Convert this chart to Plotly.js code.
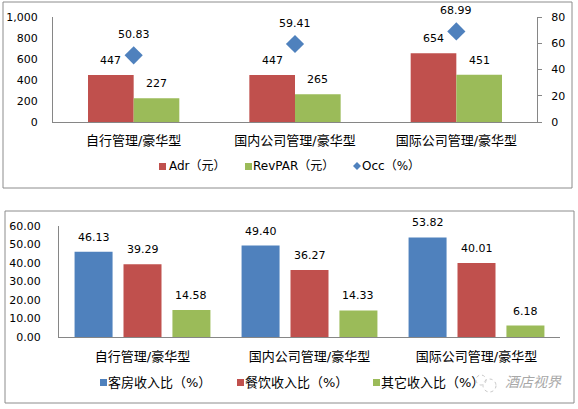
<!DOCTYPE html>
<html>
<head>
<meta charset="utf-8">
<script src="https://cdn.plot.ly/plotly-3.0.1.min.js"></script>
<style>html,body{margin:0;padding:0;background:#fff;}#chart{width:578px;height:409px;}</style>
</head>
<body>
<div id="chart"></div>
<script>
// ---- data ----
const categories = ["自行管理/豪华型", "国内公司管理/豪华型", "国际公司管理/豪华型"];
const adr = [447, 447, 654];
const revpar = [227, 265, 451];
const occ = [50.83, 59.41, 68.99];
const roomRatio = [46.13, 49.40, 53.82];
const fbRatio = [39.29, 36.27, 40.01];
const otherRatio = [14.58, 14.33, 6.18];
const topNames = ["Adr（元）", "RevPAR（元）", "Occ（%）"];
const bottomNames = ["客房收入比（%）", "餐饮收入比（%）", "其它收入比（%）"];

const FONT = "DejaVu Sans, Verdana, 'Noto Sans CJK SC', sans-serif";
const RED = "#C0504D", GREEN = "#9BBB59", BLUE = "#4F81BD", AX = "#868686";
const W = 578, H = 409;
const px = v => v / W, py = v => 1 - v / H;

// bar geometry (category units)
const TW = 0.283;                  // top bar width
const BW = 0.2275, BS = 0.293;     // bottom bar width & slot
const topOffsets = [-TW, 0];
const botOffsets = [-BS - BW / 2, -BW / 2, BS - BW / 2];

const traces = [
  {type: "bar", name: topNames[0], x: categories, y: adr, xaxis: "x", yaxis: "y",
   width: TW, offset: topOffsets[0], marker: {color: RED}, hoverinfo: "none"},
  {type: "bar", name: topNames[1], x: categories, y: revpar, xaxis: "x", yaxis: "y",
   width: TW, offset: topOffsets[1], marker: {color: GREEN}, hoverinfo: "none"},
  {type: "scatter", mode: "markers", name: topNames[2], x: categories, y: occ, xaxis: "x", yaxis: "y2",
   marker: {symbol: "diamond", size: 14, color: BLUE}, hoverinfo: "none"},
  {type: "bar", name: bottomNames[0], x: categories, y: roomRatio, xaxis: "x2", yaxis: "y3",
   width: BW, offset: botOffsets[0], marker: {color: BLUE}, hoverinfo: "none"},
  {type: "bar", name: bottomNames[1], x: categories, y: fbRatio, xaxis: "x2", yaxis: "y3",
   width: BW, offset: botOffsets[1], marker: {color: RED}, hoverinfo: "none"},
  {type: "bar", name: bottomNames[2], x: categories, y: otherRatio, xaxis: "x2", yaxis: "y3",
   width: BW, offset: botOffsets[2], marker: {color: GREEN}, hoverinfo: "none"}
];

const annotations = [];
function addLabels(vals, xref, yref, off, w, fmt, shift) {
  vals.forEach((v, i) => {
    annotations.push({x: i + off + w / 2, y: v, xref: xref, yref: yref, text: fmt(v),
      showarrow: false, yanchor: "bottom", yshift: shift, font: {size: 11, color: "#000"}});
  });
}
addLabels(adr, "x", "y", topOffsets[0], TW, v => String(v), 6);
addLabels(revpar, "x", "y", topOffsets[1], TW, v => String(v), 6);
addLabels(occ, "x", "y2", 0, 0, v => v.toFixed(2), 12);
addLabels(roomRatio, "x2", "y3", botOffsets[0], BW, v => v.toFixed(2), 6);
addLabels(fbRatio, "x2", "y3", botOffsets[1], BW, v => v.toFixed(2), 6);
addLabels(otherRatio, "x2", "y3", botOffsets[2], BW, v => v.toFixed(2), 6);

// ---- custom legends (compact, like the reference) ----
const shapes = [
  {type: "rect", xref: "paper", yref: "paper", x0: px(3), x1: px(572), y0: py(188), y1: py(2),
   line: {color: "#8c8c8c", width: 1}},
  {type: "rect", xref: "paper", yref: "paper", x0: px(5), x1: px(574), y0: py(403), y1: py(211),
   line: {color: "#8c8c8c", width: 1}}
];
function legendItem(symX, textX, cy, color, name, size, kind) {
  if (kind === "diamond") {
    shapes.push({type: "path", xref: "paper", yref: "paper",
      path: `M ${px(symX)} ${py(cy - 4)} L ${px(symX + 4)} ${py(cy)} L ${px(symX)} ${py(cy + 4)} L ${px(symX - 4)} ${py(cy)} Z`,
      fillcolor: color, line: {width: 0}});
  } else {
    shapes.push({type: "rect", xref: "paper", yref: "paper",
      x0: px(symX), x1: px(symX + 7), y0: py(cy + 4), y1: py(cy - 3),
      fillcolor: color, line: {width: 0}});
  }
  annotations.push({x: px(textX), y: py(cy), xref: "paper", yref: "paper", text: name,
    showarrow: false, xanchor: "left", yanchor: "middle", font: {size: size, color: "#000"}});
}
legendItem(159, 167, 166, RED, topNames[0], 12, "sq");
legendItem(245, 251, 166, GREEN, topNames[1], 12, "sq");
legendItem(357, 360, 166, BLUE, topNames[2], 12, "diamond");
legendItem(100, 106, 382, BLUE, bottomNames[0], 13, "sq");
legendItem(237, 243, 382, RED, bottomNames[1], 13, "sq");
legendItem(373, 379, 382, GREEN, bottomNames[2], 13, "sq");

// watermark
shapes.push({type: "circle", xref: "paper", yref: "paper", x0: px(476), x1: px(486), y0: py(385), y1: py(375),
  line: {color: "#c8c8c8", width: 1, dash: "dot"}});
shapes.push({type: "circle", xref: "paper", yref: "paper", x0: px(483), x1: px(496), y0: py(392), y1: py(379),
  line: {color: "#c8c8c8", width: 1, dash: "dot"}});
annotations.push({x: px(503), y: py(382), xref: "paper", yref: "paper", text: "<i>酒店视界</i>",
  showarrow: false, xanchor: "left", yanchor: "middle", font: {size: 14, color: "#a8a8a8"}});

const axisBase = {showline: true, linecolor: AX, linewidth: 1, showgrid: false, zeroline: false,
  fixedrange: true, tickfont: {size: 11, color: "#000"}};

const layout = {
  width: W, height: H,
  margin: {l: 0, r: 0, t: 0, b: 0},
  paper_bgcolor: "#fff", plot_bgcolor: "rgba(0,0,0,0)",
  font: {family: FONT, color: "#000"},
  barmode: "overlay",
  showlegend: false,
  xaxis: Object.assign({}, axisBase, {domain: [px(53), px(537)], anchor: "y", type: "category",
    ticks: "", tickfont: {size: 13, color: "#000"}, ticklabelstandoff: 6}),
  yaxis: Object.assign({}, axisBase, {domain: [py(122), py(17)], anchor: "x",
    range: [0, 1000], dtick: 200, tickformat: ",d", ticks: "", ticklabelstandoff: 12}),
  yaxis2: Object.assign({}, axisBase, {overlaying: "y", side: "right", anchor: "x",
    range: [0, 80], dtick: 20, ticks: "outside", ticklen: 4, tickcolor: AX, ticklabelstandoff: 7}),
  xaxis2: Object.assign({}, axisBase, {domain: [px(59), px(560)], anchor: "y3", type: "category",
    ticks: "", tickfont: {size: 13, color: "#000"}, ticklabelstandoff: 7}),
  yaxis3: Object.assign({}, axisBase, {domain: [py(337), py(226)], anchor: "x2",
    range: [0, 60], dtick: 10, tickformat: ".2f", ticks: "", ticklabelstandoff: 15}),
  annotations: annotations,
  shapes: shapes
};

Plotly.newPlot("chart", traces, layout, {displayModeBar: false, staticPlot: true});
</script>
</body>
</html>
